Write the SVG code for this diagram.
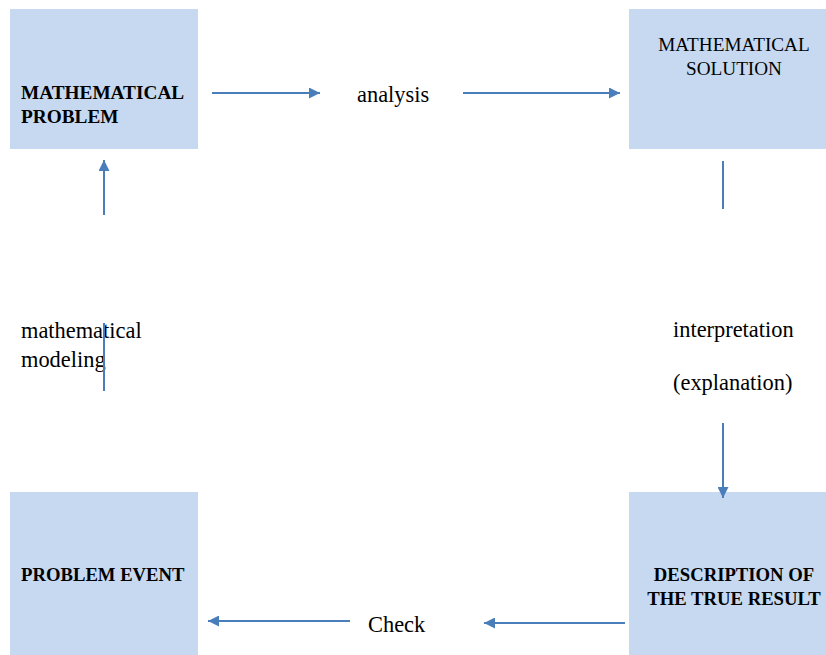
<svg xmlns="http://www.w3.org/2000/svg" width="826" height="655" viewBox="0 0 826 655">
<style>
.box{fill:#c6d9f1;}
.t{font-family:"Liberation Serif","Times New Roman","DejaVu Serif",serif;fill:#000;}
.b{font-weight:bold;font-size:18.7px;}
.r{font-size:19.2px;}
.l{font-size:22.4px;}
.c{stroke:#4a7ebb;stroke-width:2;fill:none;}
</style>
<defs>
<marker id="ah" markerWidth="11" markerHeight="11" refX="11" refY="5.5" orient="auto" markerUnits="userSpaceOnUse">
<path d="M0,0 L11,5.5 L0,11 Z" fill="#4a7ebb"/>
</marker>
</defs>
<rect width="826" height="655" fill="#fff"/>
<g id="n-math-problem">
<rect class="box" x="10" y="9" width="188" height="140"/>
<text class="t b" x="21" y="99" style="font-size:19.3px">MATHEMATICAL</text>
<text class="t b" x="21" y="123" style="font-size:19.3px">PROBLEM</text>
</g>
<g id="n-math-solution">
<rect class="box" x="629" y="9" width="197" height="140"/>
<text class="t r" x="734" y="51" text-anchor="middle">MATHEMATICAL</text>
<text class="t r" x="734" y="75" text-anchor="middle">SOLUTION</text>
</g>
<g id="n-problem-event">
<rect class="box" x="10" y="492" width="188" height="163"/>
<text class="t b" x="21" y="581">PROBLEM EVENT</text>
</g>
<g id="n-description">
<rect class="box" x="629" y="492" width="197" height="163"/>
<text class="t b" x="734" y="581" text-anchor="middle">DESCRIPTION OF</text>
<text class="t b" x="734" y="605" text-anchor="middle">THE TRUE RESULT</text>
</g>
<g id="labels">
<text class="t l" x="357" y="102">analysis</text>
<text class="t l" x="21" y="338">mathematical</text>
<text class="t l" x="21" y="367">modeling</text>
<text class="t l" x="673" y="337">interpretation</text>
<text class="t l" x="673" y="390">(explanation)</text>
<text class="t l" x="368" y="632">Check</text>
</g>
<g id="connectors">
<line class="c" x1="212" y1="93" x2="320" y2="93" marker-end="url(#ah)"/>
<line class="c" x1="463" y1="93" x2="620" y2="93" marker-end="url(#ah)"/>
<line class="c" x1="723" y1="161" x2="723" y2="209"/>
<line class="c" x1="723" y1="423" x2="723" y2="498" marker-end="url(#ah)"/>
<line class="c" x1="625" y1="623" x2="484" y2="623" marker-end="url(#ah)"/>
<line class="c" x1="350" y1="621" x2="208" y2="621" marker-end="url(#ah)"/>
<line class="c" x1="104" y1="391" x2="104" y2="323"/>
<line class="c" x1="104" y1="215" x2="104" y2="160" marker-end="url(#ah)"/>
</g>
</svg>
